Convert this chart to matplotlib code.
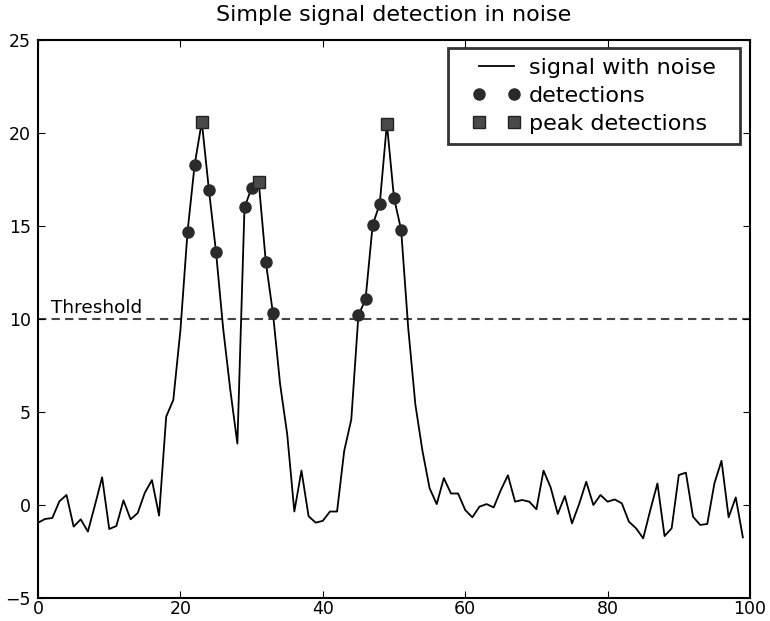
import matplotlib
matplotlib.use("Agg")
import matplotlib.pyplot as plt
import numpy as np

x = list(range(100))
signal = [-0.95, -0.75, -0.7, 0.2, 0.54, -1.16, -0.77, -1.43, 0.0, 1.49,
          -1.29, -1.13, 0.25, -0.77, -0.43, 0.66, 1.34, -0.57, 4.75, 5.65,
          9.4, 14.7, 18.3, 20.6, 16.95, 13.6, 9.5, 6.2, 3.3, 16.0,
          17.05, 17.35, 13.05, 10.3, 6.5, 3.8, -0.35, 1.85, -0.6, -0.95,
          -0.85, -0.35, -0.35, 2.9, 4.6, 10.2, 11.05, 15.05, 16.2, 20.5,
          16.5, 14.8, 9.5, 5.4, 2.9, 0.9, 0.05, 1.45, 0.62, 0.62,
          -0.27, -0.66, -0.09, 0.05, -0.13, 0.8, 1.6, 0.18, 0.27, 0.18,
          -0.23, 1.85, 0.95, -0.48, 0.48, -0.99, 0.05, 1.25, 0.0, 0.54,
          0.18, 0.3, 0.09, -0.9, -1.25, -1.79, -0.27, 1.16, -1.67, -1.25,
          1.61, 1.74, -0.63, -1.07, -1.02, 1.16, 2.38, -0.66, 0.41, -1.74]
threshold = 10
detection_x = [21, 22, 24, 25, 29, 30, 32, 33, 45, 46, 47, 48, 50, 51]
peak_x = [23, 31, 49]

det_y = [signal[i] for i in detection_x]
peak_y = [signal[i] for i in peak_x]

fig = plt.figure(figsize=(7.7, 6.21), dpi=100)
ax = fig.add_axes([0.0494, 0.037, 0.9246, 0.8986])

ax.plot(x, signal, color='black', lw=1.3, label='signal with noise', zorder=2)
ax.axhline(threshold, color='#444444', lw=1.5, linestyle=(0, (4, 2.5)), zorder=1)
ax.plot(detection_x, det_y, 'o', color='#2a2a2a', markersize=8, label='detections', zorder=3)
ax.plot(peak_x, peak_y, 's', color='#4a4a4a', markeredgecolor='#222222',
        markersize=8, label='peak detections', zorder=4)
ax.text(1.8, threshold + 0.12, 'Threshold', fontsize=13.3, va='bottom', ha='left')

ax.set_xlim(0, 100)
ax.set_ylim(-5, 25)
ax.set_xticks([0, 20, 40, 60, 80, 100])
ax.set_yticks([-5, 0, 5, 10, 15, 20, 25])
ax.tick_params(direction='in', top=True, right=True, length=5, labelsize=12.5)
ax.tick_params(axis='x', pad=1.5)
ax.tick_params(axis='y', pad=5)
for s in ax.spines.values():
    s.set_linewidth(1.5)
ax.set_title('Simple signal detection in noise', fontsize=16, pad=14)

leg = ax.legend(loc='upper right', bbox_to_anchor=(0.9663, 0.9857), numpoints=2,
                fontsize=16, frameon=True, fancybox=False, borderpad=0.45,
                labelspacing=0.36, handlelength=2.18, handletextpad=0.37,
                borderaxespad=0)
frame = leg.get_frame()
frame.set_edgecolor('black')
frame.set_linewidth(2)

# widen the legend frame horizontally (old-style legend padding)
_orig_set_bounds = frame.set_bounds
def _wide_bounds(*args):
    if len(args) == 1:
        l, b, w, h = args[0]
    else:
        l, b, w, h = args
    dx = 14
    _orig_set_bounds(l - dx, b, w + 2 * dx, h)
frame.set_bounds = _wide_bounds

fig.savefig('out.png', dpi=100)
